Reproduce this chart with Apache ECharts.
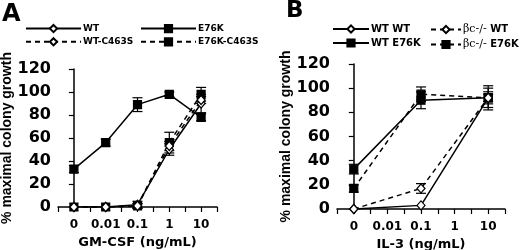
<!DOCTYPE html>
<html>
<head>
<meta charset="utf-8">
<script src="https://cdn.jsdelivr.net/npm/echarts@6/dist/echarts.min.js"></script>
<style>
  html, body { margin: 0; padding: 0; background: #fff; }
  #chart { width: 520px; height: 250px; }
</style>
</head>
<body>
<div id="chart"></div>
<script>
// tick labels (category slots 0..4 on a value axis)
var doseLabelsA = ['0', '0.01', '0.1', '1', '10'];
var doseLabelsB = ['0', '0.01', '0.1', '1', '10'];

// Panel A: GM-CSF, all five doses
var xA = [0, 1, 2, 3, 4];
var wtA = [0, 0, 2, 50, 90];
var wtErrA = [0, 0, 3, 5, 8];
var wtC463SA = [0, 0, 1, 53, 93];
var wtC463SErrA = [0, 0, 2, 4, 3];
var e76kA = [33, 56, 89, 98, 78];
var e76kErrA = [3, 3, 6, 2, 3];
var e76kC463SA = [0, 0, 1, 56, 98];
var e76kC463SErrA = [0, 0, 2, 9, 6];

// Panel B: IL-3, doses 0, 0.1, 10 only
var xB = [0, 2, 4];
var wtwtB = [0, 3, 92];
var wtwtErrB = [0, 0, 3];
var bcWtB = [0, 17, 92];
var bcWtErrB = [0, 4, 5];
var wtE76kB = [33, 90, 92];
var wtE76kErrB = [4, 7, 10];
var bcE76kB = [17, 95, 92];
var bcE76kErrB = [3, 6, 8];

var FONT = 'DejaVu Sans';

function pairs(xs, ys) {
    var out = [];
    for (var i = 0; i < xs.length; i++) out.push([xs[i], ys[i]]);
    return out;
}
function triples(xs, ys, es) {
    var out = [];
    for (var i = 0; i < xs.length; i++) if (es[i] > 0) out.push([xs[i], ys[i], es[i]]);
    return out;
}

function lineSeries(name, idx, data, filled, dashed) {
    return {
        name: name,
        type: 'line',
        xAxisIndex: idx,
        yAxisIndex: idx,
        data: data,
        symbol: filled ? 'rect' : 'diamond',
        symbolSize: filled ? 8 : [8, 9],
        itemStyle: { color: filled ? '#000' : '#fff', borderColor: '#000', borderWidth: 1.2 },
        lineStyle: { color: '#000', width: 1.5, type: dashed ? [5, 4] : 'solid' },
        animation: false,
        z: filled ? 4 : 5
    };
}

function errSeries(idx, data) {
    return {
        type: 'custom',
        xAxisIndex: idx,
        yAxisIndex: idx,
        data: data,
        encode: { x: 0, y: 1 },
        silent: true,
        animation: false,
        z: 3,
        renderItem: function (params, api) {
            var x = api.value(0), y = api.value(1), e = api.value(2);
            var top = api.coord([x, y + e]);
            var bot = api.coord([x, y - e]);
            var hw = 5;
            var st = { stroke: '#000', lineWidth: 1.2 };
            return {
                type: 'group',
                children: [
                    { type: 'line', shape: { x1: top[0], y1: top[1], x2: bot[0], y2: bot[1] }, style: st },
                    { type: 'line', shape: { x1: top[0] - hw, y1: top[1], x2: top[0] + hw, y2: top[1] }, style: st },
                    { type: 'line', shape: { x1: bot[0] - hw, y1: bot[1], x2: bot[0] + hw, y2: bot[1] }, style: st }
                ]
            };
        }
    };
}

function xAxisFor(idx, labels, name) {
    return {
        type: 'value', gridIndex: idx, min: -0.5, max: 4.5, interval: 0.5,
        splitLine: { show: false },
        axisLine: { lineStyle: { color: '#000', width: 1.5 } },
        axisTick: { length: 5, lineStyle: { color: '#000', width: 1.2 } },
        axisLabel: {
            margin: 12, color: '#000', fontFamily: FONT, fontWeight: 'bold', fontSize: 12,
            formatter: function (v) {
                return Math.abs(v - Math.round(v)) < 1e-6 ? labels[Math.round(v)] : '';
            }
        },
        name: name, nameLocation: 'middle', nameGap: 27,
        nameTextStyle: { color: '#000', fontFamily: FONT, fontWeight: 'bold', fontSize: 13 }
    };
}

function yAxisFor(idx, gap) {
    return {
        type: 'value', gridIndex: idx, min: 0, max: 120, interval: 20,
        splitLine: { show: false },
        axisLine: { show: true, lineStyle: { color: '#000', width: 1.5 } },
        axisTick: { show: true, length: 5, lineStyle: { color: '#000', width: 1.2 } },
        axisLabel: { margin: 7, color: '#000', fontFamily: FONT, fontWeight: 'bold', fontSize: 16 },
        name: '% maximal colony growth', nameLocation: 'middle', nameGap: gap, nameRotate: 90,
        nameTextStyle: { color: '#000', fontFamily: 'Liberation Sans', fontWeight: 'bold', fontSize: 14 }
    };
}

function legendFor(names, left, top, width, fontSize) {
    return {
        data: names, left: left, top: top, orient: 'vertical',
        itemWidth: width, itemHeight: 9, itemGap: 4, padding: 0,
        selectedMode: false,
        formatter: function (n) {
            return n.indexOf('βc-/-') === 0 ? '{g|βc-/-}' + n.slice(5) : n;
        },
        textStyle: {
            color: '#000', fontFamily: FONT, fontWeight: 'bold', fontSize: fontSize, padding: [0, 0, 0, -3],
            rich: { g: { fontFamily: 'DejaVu Serif', fontWeight: 'normal', fontSize: fontSize + 1, color: '#000' } }
        }
    };
}

var options = {
    backgroundColor: '#fff',
    animation: false,
    title: [
        { text: 'A', left: 2, top: 3, padding: 0, textStyle: { fontFamily: FONT, fontWeight: 'bold', fontSize: 24, color: '#000' } },
        { text: 'B', left: 286, top: 0, padding: 0, textStyle: { fontFamily: FONT, fontWeight: 'bold', fontSize: 23, color: '#000' } }
    ],
    legend: [
        legendFor(['WT', 'WT-C463S'], 25, 24, 55, 9),
        legendFor(['E76K', 'E76K-C463S'], 140, 24, 55, 9),
        legendFor(['WT WT', 'WT E76K'], 332, 24, 36, 10),
        legendFor(['βc-/- WT', 'βc-/- E76K'], 430, 24, 30, 10)
    ],
    grid: [
        { left: 58, right: 303, top: 69, bottom: 43, outerBoundsMode: 'none' },
        { left: 337, right: 15, top: 64, bottom: 41, outerBoundsMode: 'none' }
    ],
    xAxis: [xAxisFor(0, doseLabelsA, 'GM-CSF (ng/mL)'), xAxisFor(1, doseLabelsB, 'IL-3 (ng/mL)')],
    yAxis: [yAxisFor(0, 37), yAxisFor(1, 34)],
    series: [
        errSeries(0, triples(xA, wtA, wtErrA)),
        errSeries(0, triples(xA, wtC463SA, wtC463SErrA)),
        errSeries(0, triples(xA, e76kA, e76kErrA)),
        errSeries(0, triples(xA, e76kC463SA, e76kC463SErrA)),
        lineSeries('WT', 0, pairs(xA, wtA), false, false),
        lineSeries('WT-C463S', 0, pairs(xA, wtC463SA), false, true),
        lineSeries('E76K', 0, pairs(xA, e76kA), true, false),
        lineSeries('E76K-C463S', 0, pairs(xA, e76kC463SA), true, true),

        errSeries(1, triples(xB, wtwtB, wtwtErrB)),
        errSeries(1, triples(xB, bcWtB, bcWtErrB)),
        errSeries(1, triples(xB, wtE76kB, wtE76kErrB)),
        errSeries(1, triples(xB, bcE76kB, bcE76kErrB)),
        lineSeries('WT WT', 1, pairs(xB, wtwtB), false, false),
        lineSeries('βc-/- WT', 1, pairs(xB, bcWtB), false, true),
        lineSeries('WT E76K', 1, pairs(xB, wtE76kB), true, false),
        lineSeries('βc-/- E76K', 1, pairs(xB, bcE76kB), true, true)
    ]
};

var chart = echarts.init(document.getElementById('chart'), null, { renderer: 'canvas' });
chart.setOption(options);
</script>
</body>
</html>
